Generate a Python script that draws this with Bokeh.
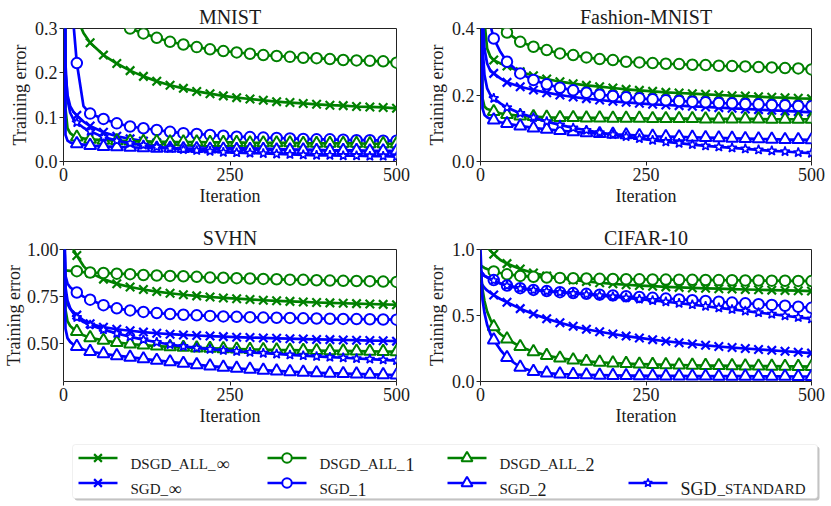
from bokeh.plotting import figure
from bokeh.layouts import column, row
from bokeh.models import Range1d, FixedTicker, BoxAnnotation
from bokeh.embed import file_html
from bokeh.resources import INLINE
from bokeh.core.properties import value

# ---------------- data ----------------
ITER = [0, 3, 6, 10, 15, 20, 30, 40, 60, 80, 100, 120, 140, 160, 180, 200, 220, 240, 260, 280,
        300, 320, 340, 360, 380, 400, 420, 440, 460, 480, 500]

X_TICKS = [0, 250, 500]
X_TICK_LABELS = ["0", "250", "500"]

# MNIST
MNIST_DSGD_ALL_INF = [0.9, 0.7, 0.55, 0.45, 0.37, 0.325, 0.29, 0.268, 0.24, 0.221, 0.205, 0.192, 0.181, 0.172, 0.165, 0.158,
                      0.153, 0.148, 0.144, 0.141, 0.138, 0.135, 0.133, 0.131, 0.129, 0.127, 0.126, 0.124, 0.123, 0.122, 0.120]
MNIST_SGD_INF = [1.0, 0.2, 0.15, 0.125, 0.112, 0.104, 0.09, 0.08, 0.066, 0.057, 0.051, 0.046, 0.042, 0.039, 0.037, 0.035,
                 0.033, 0.032, 0.031, 0.030, 0.029, 0.028, 0.027, 0.026, 0.026, 0.025, 0.024, 0.024, 0.023, 0.023, 0.022]
MNIST_DSGD_ALL_1 = [0.9, 0.8, 0.7, 0.62, 0.55, 0.5, 0.45, 0.41, 0.36, 0.325, 0.300, 0.289, 0.279, 0.270, 0.264, 0.258,
                    0.253, 0.249, 0.246, 0.243, 0.240, 0.238, 0.236, 0.234, 0.233, 0.231, 0.229, 0.228, 0.227, 0.226, 0.223]
MNIST_SGD_1 = [1.0, 1.0, 1.0, 0.9, 0.31, 0.222, 0.125, 0.108, 0.096, 0.086, 0.079, 0.075, 0.071, 0.067, 0.064, 0.062,
               0.060, 0.058, 0.056, 0.055, 0.054, 0.053, 0.052, 0.051, 0.050, 0.050, 0.049, 0.048, 0.048, 0.047, 0.047]
MNIST_DSGD_ALL_2 = [1.0, 0.12, 0.075, 0.064, 0.058, 0.055, 0.052, 0.050, 0.048, 0.047, 0.046, 0.045, 0.045, 0.044, 0.044, 0.044,
                    0.043, 0.043, 0.043, 0.042, 0.042, 0.042, 0.042, 0.041, 0.041, 0.041, 0.041, 0.041, 0.040, 0.040, 0.040]
MNIST_SGD_2 = [1.0, 0.06, 0.047, 0.043, 0.041, 0.040, 0.038, 0.036, 0.034, 0.033, 0.032, 0.031, 0.030, 0.030, 0.029, 0.029,
               0.028, 0.028, 0.027, 0.027, 0.027, 0.026, 0.026, 0.026, 0.025, 0.025, 0.025, 0.025, 0.024, 0.024, 0.024]
MNIST_SGD_STANDARD = [1.0, 0.22, 0.14, 0.11, 0.095, 0.088, 0.076, 0.068, 0.055, 0.047, 0.041, 0.037, 0.033, 0.030, 0.027, 0.025,
                      0.023, 0.021, 0.020, 0.019, 0.018, 0.017, 0.016, 0.015, 0.014, 0.014, 0.013, 0.013, 0.012, 0.012, 0.011]
MNIST_Y_TICKS = [0.0, 0.1, 0.2, 0.3]
MNIST_Y_TICK_LABELS = ["0.0", "0.1", "0.2", "0.3"]

# Fashion-MNIST
FMNIST_DSGD_ALL_INF = [1.0, 0.6, 0.42, 0.34, 0.315, 0.305, 0.295, 0.287, 0.270, 0.258, 0.248, 0.240, 0.234, 0.229, 0.225, 0.221,
                       0.217, 0.214, 0.211, 0.208, 0.206, 0.204, 0.202, 0.200, 0.198, 0.197, 0.195, 0.193, 0.192, 0.190, 0.189]
FMNIST_SGD_INF = [1.0, 0.45, 0.34, 0.295, 0.272, 0.265, 0.25, 0.238, 0.225, 0.215, 0.207, 0.200, 0.194, 0.189, 0.185, 0.181,
                  0.178, 0.175, 0.172, 0.170, 0.168, 0.166, 0.164, 0.162, 0.160, 0.158, 0.156, 0.154, 0.152, 0.150, 0.148]
FMNIST_DSGD_ALL_1 = [1.0, 0.8, 0.65, 0.5, 0.46, 0.43, 0.405, 0.388, 0.360, 0.345, 0.335, 0.325, 0.320, 0.313, 0.308, 0.305,
                     0.300, 0.298, 0.296, 0.294, 0.293, 0.291, 0.290, 0.288, 0.287, 0.286, 0.284, 0.283, 0.281, 0.280, 0.277]
FMNIST_SGD_1 = [1.0, 1.0, 0.9, 0.6, 0.41, 0.37, 0.33, 0.300, 0.265, 0.245, 0.232, 0.222, 0.214, 0.207, 0.201, 0.197,
                0.193, 0.190, 0.187, 0.184, 0.182, 0.180, 0.178, 0.176, 0.175, 0.173, 0.172, 0.170, 0.169, 0.167, 0.166]
FMNIST_DSGD_ALL_2 = [1.0, 0.19, 0.165, 0.158, 0.155, 0.150, 0.145, 0.141, 0.137, 0.135, 0.133, 0.132, 0.132, 0.131, 0.131, 0.130,
                     0.130, 0.130, 0.129, 0.129, 0.129, 0.129, 0.128, 0.128, 0.128, 0.128, 0.128, 0.127, 0.127, 0.127, 0.127]
FMNIST_SGD_2 = [1.0, 0.16, 0.14, 0.133, 0.128, 0.125, 0.118, 0.114, 0.107, 0.101, 0.097, 0.093, 0.089, 0.086, 0.084, 0.082,
                0.080, 0.078, 0.076, 0.075, 0.074, 0.073, 0.072, 0.071, 0.070, 0.069, 0.068, 0.067, 0.066, 0.066, 0.065]
FMNIST_SGD_STANDARD = [1.0, 0.35, 0.26, 0.22, 0.20, 0.190, 0.175, 0.162, 0.145, 0.132, 0.120, 0.110, 0.101, 0.094, 0.087, 0.081,
                       0.075, 0.069, 0.064, 0.059, 0.055, 0.051, 0.047, 0.044, 0.041, 0.038, 0.035, 0.032, 0.030, 0.027, 0.025]
FMNIST_Y_TICKS = [0.0, 0.2, 0.4]
FMNIST_Y_TICK_LABELS = ["0.0", "0.2", "0.4"]

# SVHN
SVHN_DSGD_ALL_INF = [1.3, 1.2, 1.12, 1.04, 1.0, 0.968, 0.912, 0.876, 0.843, 0.818, 0.801, 0.788, 0.777, 0.768, 0.760, 0.754,
                     0.748, 0.743, 0.739, 0.735, 0.731, 0.728, 0.725, 0.722, 0.719, 0.717, 0.715, 0.713, 0.711, 0.709, 0.707]
SVHN_SGD_INF = [1.3, 0.76, 0.71, 0.685, 0.665, 0.652, 0.625, 0.606, 0.588, 0.577, 0.569, 0.562, 0.556, 0.551, 0.547, 0.544,
                0.541, 0.538, 0.535, 0.533, 0.531, 0.529, 0.527, 0.525, 0.523, 0.522, 0.520, 0.519, 0.517, 0.516, 0.514]
SVHN_DSGD_ALL_1 = [0.89, 0.888, 0.888, 0.887, 0.887, 0.885, 0.880, 0.878, 0.876, 0.872, 0.869, 0.865, 0.862, 0.860, 0.858, 0.855,
                   0.851, 0.850, 0.848, 0.846, 0.844, 0.842, 0.840, 0.839, 0.837, 0.835, 0.834, 0.833, 0.832, 0.830, 0.828]
SVHN_SGD_1 = [1.3, 0.86, 0.82, 0.80, 0.785, 0.772, 0.75, 0.734, 0.705, 0.688, 0.677, 0.669, 0.663, 0.658, 0.654, 0.651,
              0.648, 0.645, 0.643, 0.641, 0.639, 0.638, 0.637, 0.635, 0.634, 0.633, 0.632, 0.631, 0.630, 0.629, 0.628]
SVHN_DSGD_ALL_2 = [1.3, 0.68, 0.62, 0.595, 0.578, 0.565, 0.545, 0.532, 0.518, 0.507, 0.499, 0.493, 0.488, 0.484, 0.481, 0.478,
                   0.476, 0.474, 0.472, 0.470, 0.469, 0.467, 0.466, 0.465, 0.464, 0.463, 0.462, 0.461, 0.460, 0.459, 0.458]
SVHN_SGD_2 = [1.3, 0.58, 0.53, 0.51, 0.495, 0.486, 0.47, 0.459, 0.447, 0.437, 0.429, 0.420, 0.412, 0.404, 0.396, 0.389,
              0.382, 0.376, 0.370, 0.365, 0.360, 0.356, 0.352, 0.349, 0.346, 0.344, 0.342, 0.340, 0.338, 0.336, 0.334]
SVHN_SGD_STANDARD = [1.3, 0.8, 0.73, 0.69, 0.66, 0.64, 0.615, 0.60, 0.575, 0.555, 0.537, 0.522, 0.508, 0.496, 0.486, 0.478,
                     0.471, 0.465, 0.460, 0.455, 0.450, 0.446, 0.441, 0.437, 0.433, 0.429, 0.426, 0.422, 0.419, 0.415, 0.411]
SVHN_Y_TICKS = [0.5, 0.75, 1.0]
SVHN_Y_TICK_LABELS = ["0.50", "0.75", "1.00"]

# CIFAR-10
CIFAR_DSGD_ALL_INF = [1.3, 1.15, 1.07, 1.02, 0.99, 0.965, 0.92, 0.893, 0.852, 0.822, 0.800, 0.783, 0.769, 0.758, 0.748, 0.740,
                      0.733, 0.727, 0.722, 0.717, 0.713, 0.709, 0.706, 0.703, 0.700, 0.697, 0.695, 0.692, 0.690, 0.688, 0.685]
CIFAR_SGD_INF = [0.75, 0.73, 0.71, 0.69, 0.672, 0.655, 0.625, 0.600, 0.552, 0.512, 0.476, 0.445, 0.418, 0.396, 0.377, 0.360,
                 0.344, 0.330, 0.317, 0.305, 0.294, 0.284, 0.274, 0.265, 0.257, 0.250, 0.243, 0.236, 0.229, 0.222, 0.215]
CIFAR_DSGD_ALL_1 = [0.88, 0.87, 0.86, 0.852, 0.843, 0.834, 0.822, 0.812, 0.800, 0.793, 0.788, 0.785, 0.782, 0.780, 0.778, 0.777,
                    0.775, 0.774, 0.773, 0.772, 0.771, 0.770, 0.769, 0.768, 0.767, 0.766, 0.765, 0.764, 0.763, 0.762, 0.761]
CIFAR_SGD_1 = [0.84, 0.82, 0.80, 0.79, 0.778, 0.768, 0.745, 0.727, 0.707, 0.694, 0.685, 0.677, 0.670, 0.664, 0.658, 0.652,
               0.646, 0.640, 0.634, 0.628, 0.622, 0.616, 0.610, 0.604, 0.598, 0.592, 0.586, 0.580, 0.574, 0.566, 0.558]
CIFAR_DSGD_ALL_2 = [0.85, 0.70, 0.61, 0.53, 0.47, 0.415, 0.36, 0.322, 0.264, 0.226, 0.197, 0.177, 0.163, 0.153, 0.146, 0.140,
                    0.136, 0.132, 0.129, 0.127, 0.125, 0.123, 0.121, 0.120, 0.119, 0.118, 0.117, 0.116, 0.115, 0.114, 0.113]
CIFAR_SGD_2 = [1.0, 0.62, 0.52, 0.43, 0.36, 0.315, 0.24, 0.181, 0.108, 0.076, 0.064, 0.057, 0.053, 0.050, 0.048, 0.046,
               0.045, 0.044, 0.043, 0.042, 0.042, 0.041, 0.041, 0.040, 0.040, 0.040, 0.039, 0.039, 0.039, 0.038, 0.038]
CIFAR_SGD_STANDARD = [0.84, 0.82, 0.80, 0.79, 0.778, 0.765, 0.743, 0.725, 0.705, 0.692, 0.683, 0.675, 0.667, 0.659, 0.651, 0.643,
                      0.634, 0.624, 0.614, 0.604, 0.593, 0.582, 0.570, 0.558, 0.546, 0.534, 0.522, 0.510, 0.498, 0.486, 0.474]
CIFAR_Y_TICKS = [0.0, 0.5, 1.0]
CIFAR_Y_TICK_LABELS = ["0.0", "0.5", "1.0"]

SERIES_NAMES = ["DSGD_ALL_INF", "SGD_INF", "DSGD_ALL_1", "SGD_1", "DSGD_ALL_2", "SGD_2", "SGD_STANDARD"]

# ---------------- style ----------------
GREEN = "#008000"
BLUE = "#0000ff"
FONT = "Liberation Serif"
TXT = "#1a1a1a"
STYLE = {
    "DSGD_ALL_INF": (GREEN, "x"),
    "SGD_INF": (BLUE, "x"),
    "DSGD_ALL_1": (GREEN, "circle"),
    "SGD_1": (BLUE, "circle"),
    "DSGD_ALL_2": (GREEN, "triangle"),
    "SGD_2": (BLUE, "triangle"),
    "SGD_STANDARD": (BLUE, "star"),
}
MSIZE = {"x": 12, "circle": 10.5, "triangle": 12, "star": 10}
MLW = {"x": 2.2, "circle": 2, "triangle": 2, "star": 1.6}


def draw_series(p, xs, ys, name):
    color, marker = STYLE[name]
    p.line(xs, ys, line_color=color, line_width=2.7, line_join="round")
    mx = [x for x in xs if x >= 20 and x % 20 == 0]
    my = [y for x, y in zip(xs, ys) if x >= 20 and x % 20 == 0]
    p.scatter(mx, my, marker=marker, size=MSIZE[marker], line_color=color,
              line_width=MLW[marker], fill_color="white")


def make_panel(title, series, yr, yticks, ylabels, width, height, left, right, top, bottom,
               ylab_standoff=2, yaxis_standoff=2):
    p = figure(width=width, height=height, x_range=Range1d(0, 500), y_range=Range1d(*yr),
               output_backend="svg", toolbar_location=None,
               min_border_left=left, min_border_right=right, min_border_top=top,
               min_border_bottom=bottom)
    p.title.text = title
    p.title.align = "center"
    p.title.text_font = FONT
    p.title.text_font_size = "20px"
    p.title.text_font_style = "normal"
    p.title.text_color = TXT
    p.title.standoff = 2
    p.grid.visible = False
    p.outline_line_color = "#222222"
    p.outline_line_width = 1
    p.background_fill_color = "white"
    p.border_fill_color = "white"
    for ax, ticks, labels in ((p.xaxis, X_TICKS, X_TICK_LABELS), (p.yaxis, yticks, ylabels)):
        ax.ticker = FixedTicker(ticks=ticks)
        ax.major_label_overrides = {t: l for t, l in zip(ticks, labels)}
        ax.minor_tick_line_color = None
        ax.major_tick_out = 4
        ax.major_tick_in = 0
        ax.major_tick_line_color = "#222222"
        ax.axis_line_color = None
        ax.major_label_text_font = FONT
        ax.major_label_text_font_size = "18px"
        ax.major_label_text_color = TXT
        ax.major_label_standoff = 2
        ax.axis_label_text_font = FONT
        ax.axis_label_text_font_size = "18px"
        ax.axis_label_text_font_style = "normal"
        ax.axis_label_text_color = TXT
        ax.axis_label_standoff = 2
    p.yaxis.major_label_standoff = ylab_standoff
    p.yaxis.axis_label_standoff = yaxis_standoff
    p.xaxis.axis_label = "Iteration"
    p.yaxis.axis_label = "Training error"
    for name, ys in zip(SERIES_NAMES, series):
        draw_series(p, ITER, ys, name)
    return p


p1 = make_panel("MNIST", [MNIST_DSGD_ALL_INF, MNIST_SGD_INF, MNIST_DSGD_ALL_1, MNIST_SGD_1,
                          MNIST_DSGD_ALL_2, MNIST_SGD_2, MNIST_SGD_STANDARD],
                (0, 0.3), MNIST_Y_TICKS, MNIST_Y_TICK_LABELS, 423, 221, 63, 27, 28, 60)
p2 = make_panel("Fashion-MNIST", [FMNIST_DSGD_ALL_INF, FMNIST_SGD_INF, FMNIST_DSGD_ALL_1, FMNIST_SGD_1,
                                  FMNIST_DSGD_ALL_2, FMNIST_SGD_2, FMNIST_SGD_STANDARD],
                (0, 0.4), FMNIST_Y_TICKS, FMNIST_Y_TICK_LABELS, 406, 221, 55, 18, 28, 60)
p3 = make_panel("SVHN", [SVHN_DSGD_ALL_INF, SVHN_SGD_INF, SVHN_DSGD_ALL_1, SVHN_SGD_1,
                         SVHN_DSGD_ALL_2, SVHN_SGD_2, SVHN_SGD_STANDARD],
                (0.3, 1.0), SVHN_Y_TICKS, SVHN_Y_TICK_LABELS, 423, 215, 63, 27, 28, 55,
                ylab_standoff=1, yaxis_standoff=0)
p4 = make_panel("CIFAR-10", [CIFAR_DSGD_ALL_INF, CIFAR_SGD_INF, CIFAR_DSGD_ALL_1, CIFAR_SGD_1,
                             CIFAR_DSGD_ALL_2, CIFAR_SGD_2, CIFAR_SGD_STANDARD],
                (0, 1.0), CIFAR_Y_TICKS, CIFAR_Y_TICK_LABELS, 406, 215, 55, 18, 28, 55)

# ---------------- legend ----------------
LW, LH = 829, 70
leg = figure(width=LW, height=LH, x_range=Range1d(0, LW), y_range=Range1d(0, LH),
             output_backend="svg", toolbar_location=None, min_border=0,
             x_axis_location=None, y_axis_location=None)
leg.grid.visible = False
leg.outline_line_color = None
leg.background_fill_color = "white"
leg.border_fill_color = "white"

box_l, box_r, box_t, box_b = 72, 817, 62, 8
leg.add_layout(BoxAnnotation(left=box_l + 2, right=box_r + 2, top=box_t - 2, bottom=box_b - 2,
                             fill_color="#888888", fill_alpha=0.5, line_color=None,
                             border_radius=3, level="underlay"))
leg.add_layout(BoxAnnotation(left=box_l, right=box_r, top=box_t, bottom=box_b,
                             fill_color="white", fill_alpha=1.0, line_color="#cccccc",
                             line_width=1, border_radius=3, level="underlay"))

ROW_Y = [48.5, 23.5]          # sample line centres
ROW_BASE = [42.5, 17.5]       # text baselines
COL_X = [78, 267, 447, 628]   # sample line starts
SAMPLE_W = 39
TEXT_DX = 52

LEGEND_ITEMS = [
    ("DSGD_ALL_INF", 0, 0, "DSGD_ALL_", "\u221e"),
    ("SGD_INF", 1, 0, "SGD_", "\u221e"),
    ("DSGD_ALL_1", 0, 1, "DSGD_ALL_", "1"),
    ("SGD_1", 1, 1, "SGD_", "1"),
    ("DSGD_ALL_2", 0, 2, "DSGD_ALL_", "2"),
    ("SGD_2", 1, 2, "SGD_", "2"),
]
SMALL_W = {"DSGD_ALL_": 86, "SGD_": 38}

for name, r, c, pre, suf in LEGEND_ITEMS:
    color, marker = STYLE[name]
    x0 = COL_X[c]
    y = ROW_Y[r]
    leg.line([x0, x0 + SAMPLE_W], [y, y], line_color=color, line_width=2.7)
    leg.scatter([x0 + SAMPLE_W / 2], [y], marker=marker, size=MSIZE[marker] - 1,
                line_color=color, line_width=MLW[marker], fill_color="white")
    tx = x0 + TEXT_DX
    leg.text([tx], [ROW_BASE[r]], text=[pre], text_font=value(FONT), text_font_size="15px",
             text_baseline="alphabetic", text_align="left", text_color=TXT)
    leg.text([tx + SMALL_W[pre]], [ROW_BASE[r]], text=[suf], text_font=value(FONT),
             text_font_size="18px", text_baseline="alphabetic", text_align="left", text_color=TXT)

# SGD_standard
color, marker = STYLE["SGD_STANDARD"]
x0 = COL_X[3]
leg.line([x0, x0 + SAMPLE_W], [ROW_Y[1], ROW_Y[1]], line_color=color, line_width=2.7)
leg.scatter([x0 + SAMPLE_W / 2], [ROW_Y[1]], marker=marker, size=MSIZE[marker] - 1,
            line_color=color, line_width=MLW[marker], fill_color="white")
leg.text([x0 + TEXT_DX], [ROW_BASE[1]], text=["SGD"], text_font=value(FONT), text_font_size="18px",
         text_baseline="alphabetic", text_align="left", text_color=TXT)
leg.text([x0 + TEXT_DX + 37], [ROW_BASE[1]], text=["_STANDARD"], text_font=value(FONT),
         text_font_size="15px", text_baseline="alphabetic", text_align="left", text_color=TXT)

layout = column(row(p1, p2), row(p3, p4), leg)
open("out.html", "w").write(file_html(layout, INLINE))
